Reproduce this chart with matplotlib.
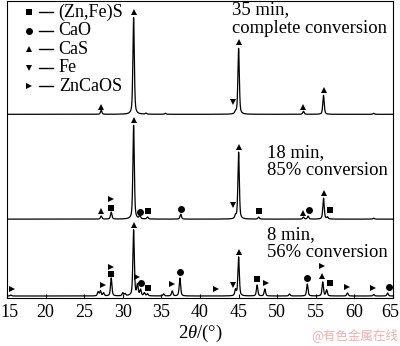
import numpy as np
import matplotlib.pyplot as plt
from matplotlib.transforms import ScaledTranslation

plt.rcParams['font.family'] = ['Liberation Serif', 'DejaVu Serif']
plt.rcParams['mathtext.fontset'] = 'custom'
plt.rcParams['mathtext.rm'] = 'Liberation Serif'
plt.rcParams['mathtext.it'] = 'Liberation Serif:italic'

# XRD peaks: position (2theta, deg) and height above baseline (a.u.)
pos_8 = [15.5, 26.8, 27.1, 27.5, 28.5, 30.0, 30.3, 31.4, 31.9, 32.3, 32.8, 33.2,
         35.3, 36.4, 37.4, 44.6, 45.0, 47.4, 48.4, 51.6, 53.9, 55.9, 56.4, 59.1,
         62.5, 64.3]
h_8 = [1, 4, 5, 3, 18, 3, 2, 66, 11, 6, 3, 2,
       2, 5, 18, 6, 39, 11, 7, 2, 12, 14, 6, 3,
       1.5, 3]
pos_18 = [27.2, 28.5, 31.4, 32.2, 33.2, 37.5, 44.6, 45.0, 47.6, 53.4, 54.0, 56.0, 56.5, 62.5]
h_18 = [3, 7, 94, 3, 2, 5, 3, 67, 2, 2, 3, 21, 2, 1]
pos_35 = [27.2, 31.4, 33.0, 35.5, 44.6, 45.0, 53.4, 56.0, 62.5]
h_35 = [4, 97, 1, 1, 2, 66, 3, 19, 1]

baselines = [2, 79, 184]
labels = ['8 min,\n56% conversion', '18 min,\n85% conversion', '35 min,\ncomplete conversion']

# phase markers: (phase, 2theta, height above baseline)
phases = ['(Zn,Fe)S', 'CaO', 'CaS', 'Fe', 'ZnCaOS']
symbols = {'(Zn,Fe)S': 's', 'CaO': 'o', 'CaS': '^', 'Fe': 'v', 'ZnCaOS': '>'}
marks_8 = [('ZnCaOS', 15.6, 7), ('ZnCaOS', 27.4, 11), ('(Zn,Fe)S', 28.5, 22),
           ('ZnCaOS', 28.5, 29), ('CaS', 31.4, 71), ('ZnCaOS', 31.9, 19),
           ('CaO', 32.4, 13), ('(Zn,Fe)S', 33.2, 8), ('ZnCaOS', 36.4, 12),
           ('CaO', 37.4, 24), ('ZnCaOS', 42.1, 7), ('Fe', 44.3, 11),
           ('CaS', 45.0, 44), ('(Zn,Fe)S', 47.4, 17), ('ZnCaOS', 48.5, 13),
           ('CaO', 53.9, 18), ('CaS', 55.8, 20), ('ZnCaOS', 55.8, 30),
           ('(Zn,Fe)S', 56.8, 13), ('ZnCaOS', 59.1, 9), ('ZnCaOS', 62.4, 8),
           ('CaO', 64.5, 9)]
marks_18 = [('CaS', 27.2, 8), ('(Zn,Fe)S', 28.5, 11), ('ZnCaOS', 28.5, 20),
            ('CaS', 31.4, 99), ('CaO', 32.2, 7), ('(Zn,Fe)S', 33.2, 8),
            ('CaO', 37.5, 10), ('Fe', 44.3, 14), ('CaS', 45.0, 72),
            ('(Zn,Fe)S', 47.6, 8), ('CaS', 53.3, 6), ('CaO', 54.1, 9),
            ('CaS', 56.0, 26), ('(Zn,Fe)S', 56.9, 9)]
marks_35 = [('CaS', 27.2, 7), ('CaS', 31.4, 102), ('Fe', 44.3, 12),
            ('CaS', 45.0, 72), ('CaS', 53.4, 7), ('CaS', 56.0, 24)]


def pattern(x, pos, h, fwhm=0.22, eta=0.5):
    y = np.zeros_like(x)
    for p, a in zip(pos, h):
        d = (x - p) / (fwhm / 2)
        y += a * (eta / (1 + d**2) + (1 - eta) * np.exp(-np.log(2) * d**2))
    return y


x = np.arange(15, 65.001, 0.01)
fig = plt.figure(figsize=(4, 3.46), dpi=100)
ax = fig.add_axes([7 / 400, 48 / 346, 386 / 400, 297.5 / 346])

runs = [(pos_8, h_8, marks_8), (pos_18, h_18, marks_18), (pos_35, h_35, marks_35)]
for (pos, h, marks), b in zip(runs, baselines):
    ax.plot(x, b + pattern(x, pos, h), color='black', lw=0.9)
    for ph, mx, my in marks:
        ax.plot(mx, b + my, symbols[ph], color='black', ms=5, mew=0)

# run labels
fs = 13.4
ax.text(44.2, 297, labels[2], fontsize=fs, va='top', ha='left', linespacing=1.08)
ax.text(48.7, 154, labels[1], fontsize=fs, va='top', ha='left', linespacing=1.08)
ax.text(48.7, 72, labels[0], fontsize=fs, va='top', ha='left', linespacing=1.08)

# phase key
for i, ph in enumerate(phases):
    yk = 286 - i * 18.5
    ax.plot(17.9, yk, symbols[ph], color='black', ms=5, mew=0)
    ax.plot([19.2, 20.9], [yk, yk], color='black', lw=1.0)
    ax.text(21.7, yk, ph, fontsize=13, va='center', ha='left')

ax.set_xlim(15, 65)
ax.set_ylim(0, 298)
ax.set_xticks(np.arange(15, 66, 5))
ax.set_yticks([])
ax.tick_params(axis='x', direction='in', length=3, width=0.8, labelsize=13, pad=4)
for s in ax.spines.values():
    s.set_linewidth(0.8)
ax.set_xlabel(r'$\mathit{2}\theta$/(°)', fontsize=fs, labelpad=2)

# keep the end tick labels inside the figure
fig.canvas.draw()
tl = ax.get_xticklabels()
tl[0].set_ha('left')
tl[0].set_transform(tl[0].get_transform() + ScaledTranslation(-0.065, 0, fig.dpi_scale_trans))
tl[-1].set_ha('right')
tl[-1].set_transform(tl[-1].get_transform() + ScaledTranslation(0.065, 0, fig.dpi_scale_trans))

fig.text(0.995, 0.012, '@有色金属在线', fontsize=9, color='#eeb0b0', ha='right', va='bottom',
         family=['Noto Sans CJK SC', 'DejaVu Sans'])

fig.savefig('out.png', dpi=100)
